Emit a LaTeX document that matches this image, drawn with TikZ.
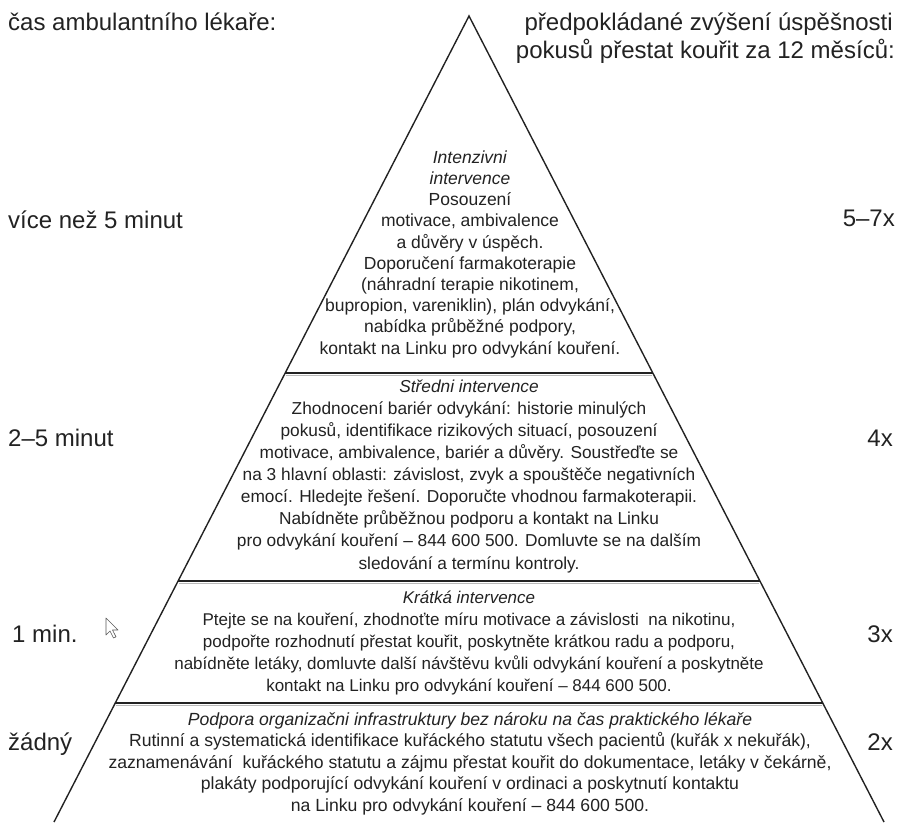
\documentclass[tikz,border=0pt]{standalone}
\usepackage{fontspec}
\setmainfont{Liberation Sans}
\usetikzlibrary{calc}
\definecolor{ink}{HTML}{222222}
\begin{document}
\begin{tikzpicture}[x=1pt,y=-1pt,
  lbl/.style={font=\fontsize{24}{28}\selectfont, text=ink, inner sep=0pt},
  body/.style={align=center, inner sep=0pt, text=ink, anchor=north},
  side/.style={draw=ink, line width=1.4pt},
  sepline/.style={draw=ink, line width=2.2pt},
  shadow/.style={draw=gray!55, line width=1pt}]
\useasboundingbox (0,0) rectangle (904,822);
% pyramid
\coordinate (apex) at (469,16);
\coordinate (bl) at (54,822);
\coordinate (br) at (884,822);
\draw[side, line join=miter] (bl) -- (apex) -- (br);
\foreach \yy/\nm in {373/a,581/b,703/c} {
  \pgfmathsetmacro\fr{(\yy-16)/806}
  \coordinate (L\nm) at ($(apex)!\fr!(bl)$);
  \coordinate (R\nm) at ($(apex)!\fr!(br)$);
  \draw[shadow] ($(L\nm)+(1,2.8)$) -- ($(R\nm)+(-1,2.8)$);
  \draw[sepline] (L\nm) -- (R\nm);
}
% headers
\node[lbl, anchor=base west] (hl) at (8,30) {čas ambulantního lékaře:};
\node[lbl, anchor=base east] (hr1) at (893,30) {předpokládané zvýšení úspěšnosti};
\node[lbl, anchor=base east] (hr2) at (895,58) {pokusů přestat kouřit za 12 měsíců:};
% left labels
\node[lbl, anchor=base west] (t1) at (8,228) {více než 5 minut};
\node[lbl, anchor=base west] (t2) at (8,446) {2–5 minut};
\node[lbl, anchor=base west] (t3) at (12,642) {1 min.};
\node[lbl, anchor=base west] (t4) at (8,750) {žádný};
% right labels
\node[lbl, anchor=base east] (r1) at (895,226) {5–7x};
\node[lbl, anchor=base east] (r2) at (893,446) {4x};
\node[lbl, anchor=base east] (r3) at (893,642) {3x};
\node[lbl, anchor=base east] (r4) at (893,750) {2x};
% blocks
\node[body, font=\fontsize{17.5}{21.2}\selectfont] (int) at (470,147) {%
\rule{0pt}{16pt}\textit{Intenzivni}\\
\textit{intervence}\\
Posouzení\\
motivace, ambivalence\\
a důvěry v úspěch.\\
Doporučení farmakoterapie\\
(náhradní terapie nikotinem,\\
bupropion, vareniklin), plán odvykání,\\
nabídka průběžné podpory,\\
kontakt na Linku pro odvykání kouření.};
\node[body, font=\fontsize{17.3}{22.1}\selectfont] (mid) at (469,376) {%
\rule{0pt}{16pt}\textit{Středni intervence}\\
Zhodnocení bariér odvykání: historie minulých\\
pokusů, identifikace rizikových situací, posouzení\\
motivace, ambivalence, bariér a důvěry. Soustřeďte se\\
na 3 hlavní oblasti: závislost, zvyk a spouštěče negativních\\
emocí. Hledejte řešení. Doporučte vhodnou farmakoterapii.\\
Nabídněte průběžnou podporu a kontakt na Linku\\
pro odvykání kouření – 844 600 500. Domluvte se na dalším\\
sledování a termínu kontroly.};
\node[body, font=\fontsize{17}{22}\selectfont] (short) at (469,587) {%
\rule{0pt}{16pt}\textit{Krátká intervence}\\
Ptejte se na kouření, zhodnoťte míru motivace a závislosti \ na nikotinu,\\
podpořte rozhodnutí přestat kouřit, poskytněte krátkou radu a podporu,\\
nabídněte letáky, domluvte další návštěvu kvůli odvykání kouření a poskytněte\\
kontakt na Linku pro odvykání kouření – 844 600 500.};
\node[body, font=\fontsize{17.6}{21.5}\selectfont] (base) at (470,709) {%
\rule{0pt}{16pt}\textit{Podpora organizačni infrastruktury bez nároku na čas praktického lékaře}\\
Rutinní a systematická identifikace kuřáckého statutu všech pacientů (kuřák x nekuřák),\\
zaznamenávání \ kuřáckého statutu a zájmu přestat kouřit do dokumentace, letáky v čekárně,\\
plakáty podporující odvykání kouření v ordinaci a poskytnutí kontaktu\\
na Linku pro odvykání kouření – 844 600 500.};
% mouse pointer
\draw[gray!70!black, fill=white, line width=0.6pt, line join=round] (106,618) -- ++(0,17) -- ++(4,-4) -- ++(3.5,7) -- ++(2.5,-1.2) -- ++(-3.5,-6.8) -- ++(5.5,0) -- cycle;
\end{tikzpicture}
\end{document}
